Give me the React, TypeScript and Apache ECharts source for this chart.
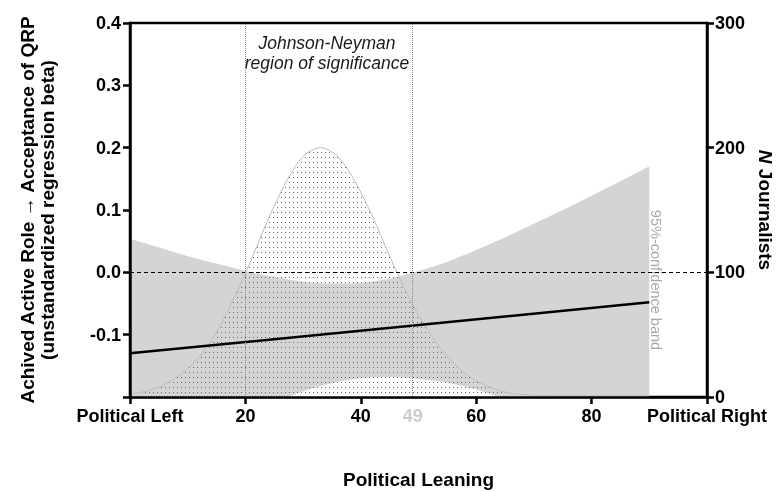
import React, { useEffect, useRef } from "react";
import * as echarts from "echarts";

// Political leaning sample points for the 95% confidence band
const bandX = [0, 5, 10, 15, 20, 25, 30, 35, 40, 45, 50, 55, 60, 65, 70, 75, 80, 85, 90];
const bandUpper = [0.054, 0.04, 0.026, 0.014, 0.002, -0.007, -0.015, -0.018, -0.017, -0.01, 0.002, 0.017, 0.036, 0.056, 0.078, 0.1, 0.123, 0.146, 0.17];
const bandLower = [-0.314, -0.291, -0.268, -0.247, -0.226, -0.208, -0.191, -0.178, -0.17, -0.168, -0.171, -0.177, -0.188, -0.203, -0.215, -0.228, -0.24, -0.253, -0.266];

// Regression line (beta as a function of political leaning)
const regressionX = [0, 90];
const regressionBeta = [-0.13, -0.048];

// Distribution of journalists (N) over political leaning
const densityX = [0, 3, 6, 9, 12, 15, 18, 21, 24, 27, 30, 33, 36, 39, 42, 45, 48, 51, 54, 57, 60, 63, 66, 70, 75, 80, 85, 90];
const densityN = [2, 5, 10, 19, 32, 52, 79, 110, 143, 172, 193, 200, 193, 173, 145, 113, 83, 58, 38, 23, 13, 7, 3, 1.5, 1, 1, 1, 1];

// Johnson-Neyman bounds
const jnBounds = [20, 49];

const xEndLabels: Record<number, string> = { 0: "Political Left", 100: "Political Right" };

const FONT = "Liberation Sans";

export default function App() {
  const ref = useRef<HTMLDivElement>(null);

  useEffect(() => {
    if (!ref.current) return;
    const chart = echarts.init(ref.current, undefined, { renderer: "svg" });

    const cv = document.createElement("canvas");
    cv.width = 4;
    cv.height = 5;
    const ctx = cv.getContext("2d");
    if (ctx) {
      ctx.fillStyle = "#666666";
      ctx.fillRect(1, 2, 1, 1);
    }
    const dots: any = { image: cv.toDataURL(), repeat: "repeat", imageWidth: 4, imageHeight: 5 };

    const densityData = densityX.map((x, i) => [x, densityN[i]]);
    const upperData = bandX.map((x, i) => [x, bandUpper[i]]);
    const lowerData = bandX.map((x, i) => [x, bandLower[i]]);
    const regData = regressionX.map((x, i) => [x, regressionBeta[i]]);

    const axisLine = { show: true, onZero: false, lineStyle: { color: "#000", width: 2.5 } };
    const axisTick = { show: true, length: 7, lineStyle: { color: "#000", width: 2.5 } };
    const labelStyle = { color: "#000", fontSize: 18, fontWeight: "bold" as const, fontFamily: FONT };

    chart.setOption({
      animation: false,
      textStyle: { fontFamily: FONT },
      grid: {
        left: 130,
        right: 71,
        top: 23,
        bottom: 95,
        containLabel: false,
        outerBoundsMode: "none",
        show: true,
        borderColor: "#000",
        borderWidth: 2.5,
        backgroundColor: "transparent",
      },
      xAxis: {
        type: "value",
        min: 0,
        max: 100,
        interval: 20,
        z: 5,
        axisLine,
        axisTick,
        splitLine: { show: false },
        axisLabel: {
          ...labelStyle,
          margin: 10,
          showMinLabel: true,
          showMaxLabel: true,
          formatter: (v: number) => xEndLabels[v] ?? String(v),
        },
        name: "Political Leaning",
        nameLocation: "middle",
        nameGap: 73,
        nameTextStyle: { color: "#000", fontSize: 19, fontWeight: "bold", fontFamily: FONT },
      },
      yAxis: [
        {
          type: "value",
          min: -0.2,
          max: 0.4,
          interval: 0.1,
          position: "left",
          z: 5,
          axisLine,
          axisTick,
          splitLine: { show: false },
          axisLabel: {
            ...labelStyle,
            margin: 9,
            formatter: (v: number) => (v < -0.15 ? "" : v.toFixed(1)),
          },
          name: "Achived Active Role \u2192 Acceptance of QRP\n(unstandardized regression beta)",
          nameLocation: "middle",
          nameRotate: 90,
          nameGap: 73,
          nameTextStyle: { color: "#000", fontSize: 19, fontWeight: "bold", fontFamily: FONT, lineHeight: 20 },
        },
        {
          type: "value",
          min: 0,
          max: 300,
          interval: 100,
          position: "right",
          z: 5,
          axisLine,
          axisTick,
          splitLine: { show: false },
          axisLabel: { ...labelStyle, margin: 8 },
          name: "{i|N} Journalists",
          nameLocation: "middle",
          nameRotate: -90,
          nameGap: 48,
          nameTextStyle: {
            color: "#000",
            fontSize: 19,
            fontWeight: "bold",
            fontFamily: FONT,
            rich: { i: { fontStyle: "italic", fontWeight: "bold", fontSize: 19, color: "#000", fontFamily: FONT } },
          },
        },
      ],
      series: [
        {
          name: "density outline",
          type: "line",
          yAxisIndex: 1,
          data: densityData,
          smooth: 0.3,
          showSymbol: false,
          lineStyle: { color: "#bcbcbc", width: 1 },
          silent: true,
        },
        {
          name: "ci upper",
          type: "line",
          yAxisIndex: 0,
          data: upperData,
          smooth: 0.3,
          showSymbol: false,
          lineStyle: { width: 0, opacity: 0 },
          areaStyle: { color: "#d4d4d4", opacity: 1, origin: "start" },
          silent: true,
        },
        {
          name: "ci lower",
          type: "line",
          yAxisIndex: 0,
          data: lowerData,
          smooth: 0.3,
          showSymbol: false,
          lineStyle: { width: 0, opacity: 0 },
          areaStyle: { color: "#ffffff", opacity: 1, origin: "start" },
          silent: true,
        },
        {
          name: "density",
          type: "line",
          yAxisIndex: 1,
          data: densityData,
          smooth: 0.3,
          showSymbol: false,
          lineStyle: { width: 0, opacity: 0 },
          areaStyle: { color: dots, opacity: 1 },
          silent: true,
        },
        {
          name: "regression",
          type: "line",
          yAxisIndex: 0,
          data: regData,
          showSymbol: false,
          lineStyle: { color: "#000", width: 2.5 },
          silent: true,
          markLine: {
            silent: true,
            symbol: ["none", "none"],
            animation: false,
            data: [
              { yAxis: 0, lineStyle: { color: "#000", type: [4, 3], width: 1.2 }, label: { show: false } },
              { xAxis: jnBounds[0], lineStyle: { color: "#8c8c8c", type: [1, 1], width: 1 }, label: { show: false } },
              {
                xAxis: jnBounds[1],
                lineStyle: { color: "#8c8c8c", type: [1, 1], width: 1 },
                label: {
                  show: true,
                  position: "start",
                  formatter: String(jnBounds[1]),
                  color: "#cccccc",
                  fontSize: 18,
                  fontWeight: "bold",
                  fontFamily: FONT,
                  distance: 10,
                },
              },
            ],
          },
        },
      ],
      graphic: [
        {
          type: "text",
          x: 327,
          y: 33,
          silent: true,
          style: {
            text: "Johnson-Neyman\nregion of significance",
            textAlign: "center",
            textVerticalAlign: "top",
            fontSize: 17.5,
            fontStyle: "italic",
            fontFamily: FONT,
            lineHeight: 20,
            fill: "#1a1a1a",
          },
        },
        {
          type: "text",
          x: 656,
          y: 280,
          rotation: -Math.PI / 2,
          silent: true,
          style: {
            text: "95%-confidence band",
            textAlign: "center",
            textVerticalAlign: "middle",
            fontSize: 14.5,
            fontFamily: FONT,
            fill: "#a8a8a8",
          },
        },
      ],
    });

    return () => chart.dispose();
  }, []);

  return <div ref={ref} style={{ position: "fixed", left: 0, top: 0, width: 778, height: 492 }} />;
}
